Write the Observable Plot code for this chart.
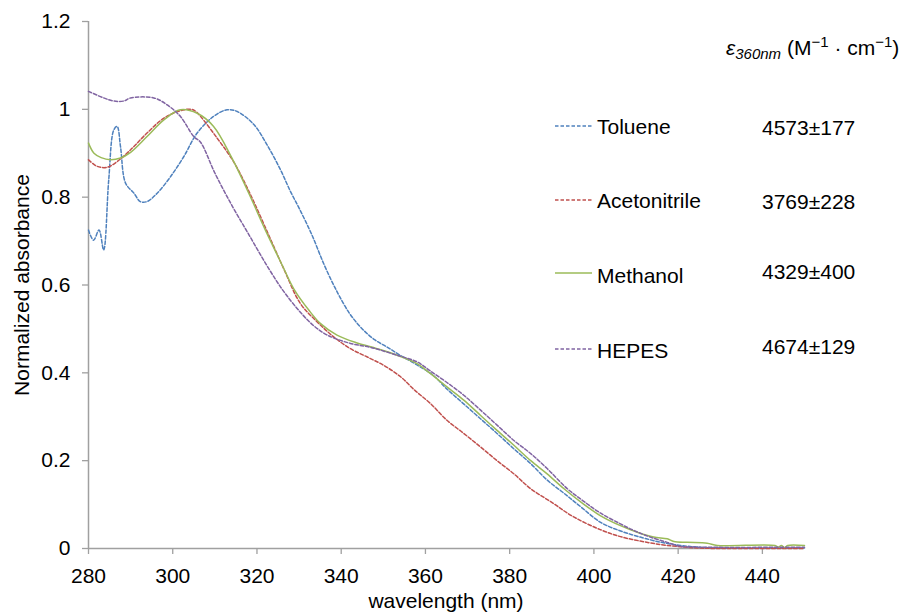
<!DOCTYPE html>
<html><head><meta charset="utf-8">
<script src="https://cdn.jsdelivr.net/npm/d3@7"></script>
<script src="https://cdn.jsdelivr.net/npm/@observablehq/plot@0.6"></script>
<style>
body{margin:0;background:#fff}
svg{font-family:Arial,"Liberation Sans",sans-serif}
</style>
</head><body><div id="chart"></div>
<script>
// ---- data ----
const seriesNames = ["Toluene", "Acetonitrile", "Methanol", "HEPES"];
const epsilonValues = ["4573±177", "3769±228", "4329±400", "4674±129"];
const xTicks = [280, 300, 320, 340, 360, 380, 400, 420, 440];
const yTicks = [0, 0.2, 0.4, 0.6, 0.8, 1, 1.2];

const tolueneWl  = [280, 281.2, 282.5, 283.6, 284.8, 286, 286.8, 287.6, 288.8, 290.8, 292.3, 293.9, 296.3, 299.5, 302.6, 305.8, 309.7, 312.9, 315.3, 319.2, 322.4, 325.6, 328, 330, 333, 336, 339, 342, 345, 348, 351, 354, 358, 362, 365, 369, 373, 377, 381, 385, 389, 393, 397, 401.5, 406, 411, 416, 420.5, 425, 430, 450];
const tolueneAbs = [0.725, 0.702, 0.725, 0.680, 0.839, 0.953, 0.961, 0.915, 0.832, 0.809, 0.790, 0.790, 0.809, 0.847, 0.892, 0.946, 0.984, 0.999, 0.995, 0.966, 0.919, 0.862, 0.812, 0.775, 0.715, 0.645, 0.585, 0.535, 0.500, 0.475, 0.458, 0.440, 0.418, 0.393, 0.364, 0.330, 0.296, 0.262, 0.227, 0.193, 0.155, 0.125, 0.094, 0.060, 0.041, 0.026, 0.014, 0.007, 0.003, 0.001, 0.001];

const acetoWl  = [280, 282.1, 284.4, 286.8, 290, 293.9, 297.9, 301.8, 304.5, 305.5, 306.6, 310.5, 314.5, 318.5, 322.4, 326.4, 330.3, 334.3, 338.2, 342.2, 346.2, 350.1, 354.1, 357.5, 361.2, 365.1, 369.1, 373.1, 377, 381, 385, 390, 395, 401.5, 406.3, 411, 415.8, 420.5, 425, 430, 450];
const acetoAbs = [0.885, 0.870, 0.868, 0.881, 0.908, 0.946, 0.980, 0.997, 1.000, 0.995, 0.984, 0.935, 0.880, 0.805, 0.722, 0.636, 0.558, 0.516, 0.482, 0.455, 0.436, 0.417, 0.391, 0.360, 0.330, 0.292, 0.262, 0.231, 0.200, 0.170, 0.136, 0.105, 0.073, 0.043, 0.027, 0.017, 0.009, 0.004, 0.001, 0.000, 0.000];

const methanolWl  = [280, 281.3, 283, 285.2, 287.6, 290, 293.9, 297.9, 301.8, 305.8, 309.7, 314, 318, 322, 326, 328.7, 332.3, 335.1, 339, 343.8, 348.5, 353.3, 358, 361.2, 365.1, 369.1, 373.1, 377, 381, 385, 388.9, 392.9, 397, 401.5, 406.3, 410.3, 414.2, 417.4, 419, 422.1, 426.9, 429.3, 443, 443.8, 444.5, 445.3, 446, 450];
const methanolAbs = [0.923, 0.900, 0.890, 0.885, 0.889, 0.902, 0.938, 0.976, 0.999, 0.991, 0.961, 0.890, 0.810, 0.725, 0.645, 0.592, 0.543, 0.512, 0.486, 0.468, 0.455, 0.440, 0.421, 0.398, 0.368, 0.338, 0.303, 0.269, 0.235, 0.200, 0.170, 0.136, 0.105, 0.075, 0.052, 0.037, 0.026, 0.022, 0.016, 0.014, 0.012, 0.007, 0.007, 0.003, 0.007, 0.002, 0.007, 0.007];

const hepesWl  = [280, 283.6, 286, 288.4, 290, 295.5, 298.7, 301.8, 305, 306.6, 310, 314, 318, 322, 326, 330.3, 333.5, 336.7, 342.2, 347, 353.3, 358, 361.2, 365.1, 369.1, 373.1, 377, 381, 385, 388.9, 393.7, 397.5, 401.5, 406.3, 409.5, 413.4, 417.4, 420.5, 425, 450];
const hepesAbs = [1.041, 1.026, 1.019, 1.019, 1.026, 1.026, 1.010, 0.984, 0.938, 0.925, 0.855, 0.782, 0.716, 0.650, 0.590, 0.538, 0.507, 0.486, 0.467, 0.458, 0.440, 0.425, 0.404, 0.378, 0.349, 0.315, 0.281, 0.246, 0.216, 0.182, 0.136, 0.108, 0.081, 0.056, 0.041, 0.026, 0.014, 0.005, 0.003, 0.003];

const seriesColors = ["#4F81BD", "#C0504D", "#9BBB59", "#8064A2"];
const seriesDash = ["3.5,2", "3.5,2", null, "3.5,2"];

const toRows = (wl, ab) => wl.map((w, i) => ({wl: w, abs: ab[i]}));
const seriesData = [
  toRows(tolueneWl, tolueneAbs),
  toRows(acetoWl, acetoAbs),
  toRows(methanolWl, methanolAbs),
  toRows(hepesWl, hepesAbs)
];

const axisGray = "#a0a0a0";
const fmt = d => String(+d.toFixed(1));

const plot = Plot.plot({
  width: 907, height: 613,
  marginLeft: 88, marginRight: 103, marginTop: 21, marginBottom: 65,
  style: {fontFamily: 'Arial, "Liberation Sans", sans-serif', background: "#fff", overflow: "visible"},
  x: {domain: [280, 450]},
  y: {domain: [0, 1.2]},
  marks: [
    Plot.axisX({ticks: xTicks, tickSize: 6, tickPadding: 14, stroke: axisGray, strokeWidth: 1.3, fill: "#000", fontSize: 21, label: null}),
    Plot.axisY({ticks: yTicks, tickSize: 6, tickPadding: 12, tickFormat: fmt, stroke: axisGray, strokeWidth: 1.3, fill: "#000", fontSize: 21, label: null}),
    Plot.ruleX([280], {stroke: axisGray, strokeWidth: 1.5}),
    Plot.ruleY([0], {stroke: axisGray, strokeWidth: 1.5}),
    ...seriesData.map((d, i) => Plot.line(d, {
      x: "wl", y: "abs", stroke: seriesColors[i], strokeWidth: 1.5,
      strokeDasharray: seriesDash[i], curve: "catmull-rom"
    }))
  ]
});

document.getElementById("chart").appendChild(plot);

// ---- titles and legend (layout) ----
const svg = d3.select(plot);
const font = 'Arial, "Liberation Sans", sans-serif';

svg.append("text")
  .attr("x", 446).attr("y", 601).attr("dy", "0.35em")
  .attr("text-anchor", "middle").attr("font-size", 21).attr("font-family", font)
  .attr("fill", "#000").text("wavelength (nm)");

svg.append("text")
  .attr("transform", "translate(22,285) rotate(-90)").attr("dy", "0.35em")
  .attr("text-anchor", "middle").attr("font-size", 21).attr("font-family", font)
  .attr("fill", "#000").text("Normalized absorbance");

const hdr = svg.append("text")
  .attr("x", 726).attr("y", 55).attr("text-anchor", "start")
  .attr("font-size", 21).attr("font-family", font).attr("fill", "#000");
hdr.append("tspan").attr("font-style", "italic").text("ε");
hdr.append("tspan").attr("font-style", "italic").attr("font-size", 15).attr("dy", 4).text("360nm");
hdr.append("tspan").attr("dy", -4).text(" (M");
hdr.append("tspan").attr("font-size", 15).attr("dy", -8).text("−1");
hdr.append("tspan").attr("dy", 8).text(" · cm");
hdr.append("tspan").attr("font-size", 15).attr("dy", -8).text("−1");
hdr.append("tspan").attr("dy", 8).text(")");

const legLineY = [126, 200, 273, 349];
const legTextY = [127, 201, 276, 351];
const valY = [128, 201.5, 271.5, 346.5];
seriesNames.forEach((name, i) => {
  svg.append("line")
    .attr("x1", 555).attr("x2", 592).attr("y1", legLineY[i]).attr("y2", legLineY[i])
    .attr("stroke", seriesColors[i]).attr("stroke-width", 1.5)
    .attr("stroke-dasharray", seriesDash[i]);
  svg.append("text")
    .attr("x", 597).attr("y", legTextY[i]).attr("dy", "0.35em").attr("text-anchor", "start")
    .attr("font-size", 21).attr("font-family", font).attr("fill", "#000").text(name);
  svg.append("text")
    .attr("x", 762).attr("y", valY[i]).attr("dy", "0.35em").attr("text-anchor", "start")
    .attr("font-size", 21).attr("font-family", font).attr("fill", "#000").text(epsilonValues[i]);
});
</script>
</body></html>
